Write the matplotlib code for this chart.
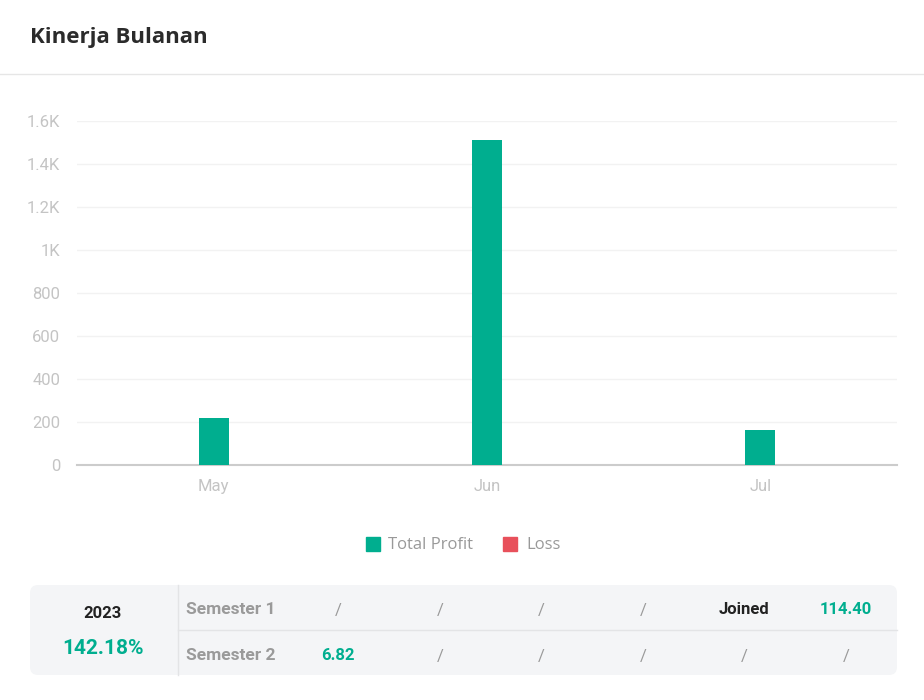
import matplotlib.pyplot as plt
import numpy as np
from matplotlib.patches import FancyBboxPatch, Rectangle
from matplotlib.ticker import FuncFormatter

# Data
months = ['May', 'Jun', 'Jul']
total_profit = [220, 1510, 163]
loss = [0, 0, 0]

year = '2023'
year_total = '142.18%'
row_labels = ['Semester 1', 'Semester 2']
row_values = [['/', '/', '/', '/', 'Joined', '114.40'],
              ['6.82', '/', '/', '/', '/', '/']]

GREEN = '#00ae8f'
RED = '#e8505b'

plt.rcParams['font.family'] = ['Roboto', 'DejaVu Sans']

fig = plt.figure(figsize=(9.24, 7), dpi=100)

# background layer in pixel units
bg = fig.add_axes([0, 0, 1, 1], zorder=0)
bg.set_xlim(0, 924)
bg.set_ylim(700, 0)
bg.axis('off')

bg.text(30, 38, 'Kinerja Bulanan', fontsize=16, fontweight='bold', color='#2b2b2b',
        va='center', ha='left', family=['Open Sans', 'DejaVu Sans'])
bg.plot([0, 924], [74, 74], color='#e6e6e6', lw=1)

# legend
bg.add_patch(Rectangle((366, 537), 14, 14, color=GREEN))
bg.text(388, 545, 'Total Profit', fontsize=12, color='#999999', va='center',
        family=['Open Sans', 'DejaVu Sans'])
bg.add_patch(Rectangle((503, 537), 14, 14, color=RED))
bg.text(526, 545, 'Loss', fontsize=12, color='#999999', va='center',
        family=['Open Sans', 'DejaVu Sans'])

# summary table
bg.add_patch(FancyBboxPatch((30, 585), 867, 90, boxstyle='round,pad=0,rounding_size=8',
                            facecolor='#f4f5f7', edgecolor='none'))
bg.plot([178, 178], [585, 675], color='#e3e4e6', lw=1)
bg.plot([178, 897], [630, 630], color='#e3e4e6', lw=1)
bg.text(103, 613, year, fontsize=12, fontweight='bold', color='#222222', ha='center', va='center')
bg.text(103, 648, year_total, fontsize=15, fontweight='bold', color=GREEN, ha='center', va='center')

col_x = [338, 440, 541, 643, 744, 846]
row_y = [610, 656]
for label, vals, y in zip(row_labels, row_values, row_y):
    bg.text(186, y, label, fontsize=12.5, fontweight='bold', color='#9a9a9a', ha='left', va='center')
    for x, v in zip(col_x, vals):
        if v == '/':
            bg.text(x, y, v, fontsize=12, color='#9a9a9a', ha='center', va='center')
        elif v == 'Joined':
            bg.text(x, y, v, fontsize=12, fontweight='bold', color='#222222', ha='center', va='center')
        else:
            bg.text(x, y, v, fontsize=12, fontweight='bold', color=GREEN, ha='center', va='center')

# chart
ax = fig.add_axes([77 / 924, (700 - 465) / 700, 820 / 924, 344 / 700], zorder=1)
ax.patch.set_alpha(0)
x = np.arange(len(months))
ax.bar(x, total_profit, 0.11, color=GREEN, label='Total Profit', zorder=3)
ax.bar(x, loss, 0.11, bottom=total_profit, color=RED, label='Loss', zorder=3)

ax.set_xlim(-0.5, len(months) - 0.5)
ax.set_ylim(0, 1600)
ax.set_yticks(np.arange(0, 1601, 200))
ax.yaxis.set_major_formatter(FuncFormatter(
    lambda v, p: f'{v / 1000:g}K' if v >= 1000 else f'{v:g}'))
ax.set_xticks(x)
ax.set_xticklabels(months)
ax.grid(axis='y', color='#f2f2f2', lw=1, zorder=0)
for s in ['top', 'right', 'left']:
    ax.spines[s].set_visible(False)
ax.spines['bottom'].set_color('#cccccc')
ax.spines['bottom'].set_linewidth(1.5)
ax.tick_params(axis='both', length=0, labelsize=12, labelcolor='#c4c4c4')
ax.tick_params(axis='y', pad=12)
ax.tick_params(axis='x', pad=10)

fig.savefig('out.png', dpi=100)
